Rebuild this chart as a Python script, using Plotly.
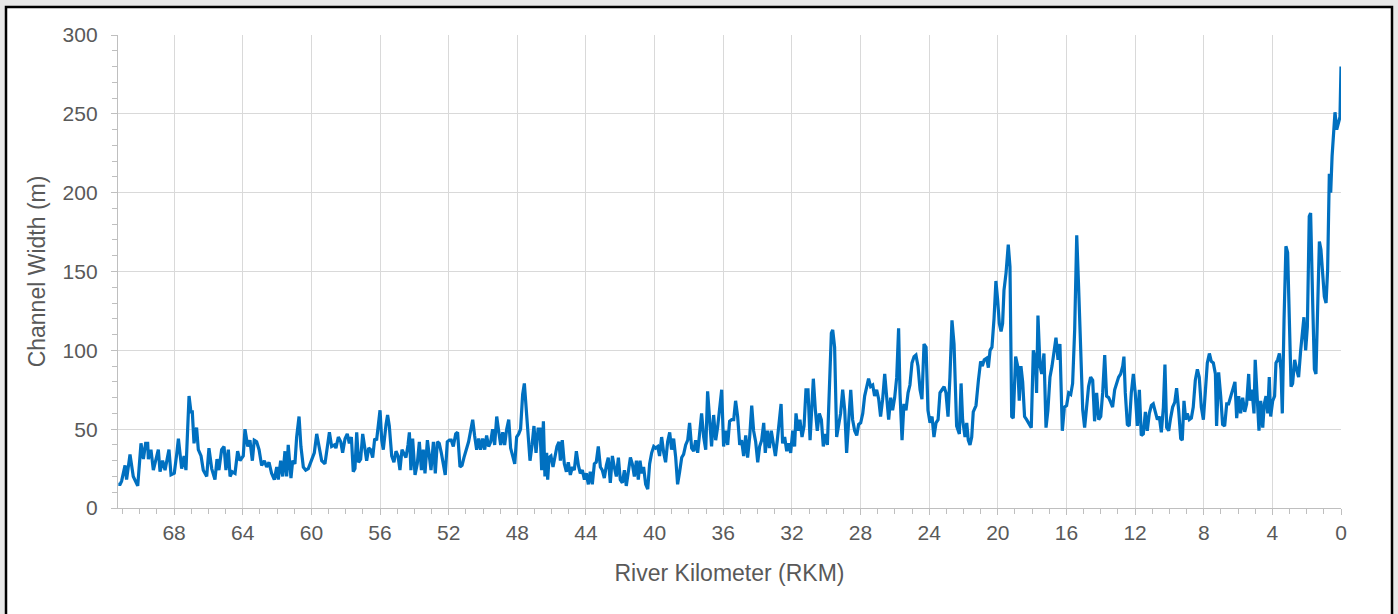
import plotly.graph_objects as go

# River kilometer (RKM) of each measurement, upstream -> downstream
rkm = [
    71.25, 71.15, 71.06, 70.86, 70.77, 70.57, 70.38, 70.18, 70.12, 69.93, 69.79, 69.66, 69.54, 69.50, 69.35,
    69.21, 69.11, 68.92, 68.82, 68.67, 68.53, 68.43, 68.30, 68.18, 67.99, 67.85, 67.75, 67.66, 67.56, 67.42,
    67.31, 67.13, 67.02, 66.94, 66.84, 66.69, 66.59, 66.43, 66.30, 66.10, 65.97, 65.81, 65.62, 65.50, 65.39,
    65.23, 65.09, 64.98, 64.84, 64.74, 64.61, 64.45, 64.30, 64.16, 63.97, 63.87, 63.71, 63.58, 63.44, 63.33,
    63.19, 63.05, 62.90, 62.74, 62.61, 62.47, 62.32, 62.16, 62.02, 61.93, 61.79, 61.67, 61.54, 61.44, 61.35,
    61.19, 61.09, 60.96, 60.86, 60.72, 60.61, 60.47, 60.33, 60.18, 59.98, 59.83, 59.69, 59.56, 59.40, 59.21,
    59.07, 58.95, 58.82, 58.66,
    58.57, 58.43, 58.29, 58.18, 58.04, 57.91, 57.79, 57.67, 57.56, 57.46, 57.36, 57.25, 57.13, 57.01, 56.90,
    56.78, 56.66, 56.55, 56.43, 56.31, 56.20, 56.08, 56.00, 55.90, 55.81, 55.65, 55.56, 55.46, 55.32, 55.19,
    55.07, 54.95, 54.84, 54.72, 54.60, 54.49, 54.37, 54.29, 54.20, 54.10, 53.96, 53.83, 53.71, 53.59, 53.48,
    53.38, 53.24, 53.13, 53.03, 52.89, 52.78, 52.66, 52.55, 52.43, 52.31, 52.20, 52.08, 51.96, 51.85, 51.73,
    51.59, 51.48, 51.34, 51.22, 51.11, 50.95, 50.84, 50.72, 50.60, 50.49, 50.37, 50.25, 50.14, 50.02, 49.90,
    49.79, 49.67, 49.55, 49.44, 49.32, 49.20, 49.09, 48.97, 48.85, 48.74, 48.62, 48.50, 48.39, 48.27, 48.15,
    48.04, 47.92, 47.81, 47.69, 47.59, 47.48, 47.36, 47.26, 47.14, 47.03, 46.91, 46.79, 46.68, 46.58, 46.48,
    46.39, 46.29,
    46.23, 46.15, 46.04, 45.92, 45.80, 45.69, 45.57, 45.49, 45.38, 45.26, 45.14, 45.03, 44.91, 44.79, 44.68,
    44.56, 44.44, 44.33, 44.21, 44.09, 43.98, 43.86, 43.75, 43.63, 43.51, 43.40, 43.28, 43.16, 43.05, 42.93,
    42.81, 42.70, 42.58, 42.46, 42.35, 42.23, 42.11, 42.00, 41.88, 41.76, 41.65, 41.53, 41.41, 41.30, 41.18,
    41.06, 40.95, 40.85, 40.75, 40.64, 40.52, 40.40, 40.29, 40.17, 40.05, 39.94, 39.82, 39.71, 39.59, 39.47,
    39.36, 39.24, 39.12, 39.01, 38.89, 38.77, 38.66, 38.54, 38.42, 38.31, 38.19, 38.07, 37.96, 37.84, 37.72,
    37.61, 37.49, 37.37, 37.26, 37.14, 37.02, 36.91, 36.79, 36.68, 36.56, 36.44, 36.33, 36.21, 36.09, 35.98,
    35.86, 35.74, 35.63, 35.51, 35.39, 35.28, 35.16, 35.04, 34.93, 34.81, 34.69, 34.58, 34.46, 34.34, 34.23,
    34.11, 33.99, 33.88, 33.76, 33.64,
    33.55, 33.43, 33.31, 33.20, 33.08, 32.96, 32.85, 32.73, 32.63, 32.54, 32.42, 32.30, 32.19, 32.07, 31.95,
    31.84, 31.76, 31.64, 31.53, 31.41, 31.29, 31.18, 31.06, 30.94, 30.83, 30.75, 30.63, 30.52, 30.40, 30.28,
    30.17, 30.05, 29.93, 29.82, 29.70, 29.62, 29.51, 29.39, 29.27, 29.16, 29.04, 28.92, 28.81, 28.69, 28.57,
    28.46, 28.34, 28.22, 28.11, 27.99, 27.87, 27.76, 27.64, 27.53, 27.41, 27.29, 27.18, 27.06, 26.94, 26.83,
    26.71, 26.59, 26.48, 26.36, 26.24, 26.13, 26.01, 25.89, 25.78, 25.70, 25.58, 25.47, 25.35, 25.23, 25.12,
    25.00, 24.88, 24.77, 24.65, 24.53, 24.42, 24.30, 24.18, 24.07, 23.95, 23.83, 23.72, 23.60, 23.48, 23.37,
    23.25, 23.13, 23.02, 22.90, 22.79, 22.67, 22.55,
    22.40, 22.24, 22.14, 22.05, 21.91, 21.81, 21.72, 21.62, 21.52, 21.43, 21.27, 21.13, 21.00, 20.90, 20.79,
    20.65, 20.55, 20.45, 20.34, 20.22, 20.11, 20.01, 19.91, 19.81, 19.72, 19.64, 19.52, 19.39, 19.29, 19.19,
    19.10, 18.96, 18.84, 18.75, 18.65, 18.55, 18.44, 18.32, 18.18, 18.05, 17.93, 17.81, 17.74, 17.66, 17.54,
    17.44, 17.31, 17.19, 17.08, 16.96, 16.84, 16.73, 16.61, 16.49, 16.38, 16.24, 16.12, 15.99, 15.87, 15.75,
    15.64, 15.52, 15.40, 15.29, 15.17, 15.05, 14.94, 14.82, 14.71, 14.59, 14.47, 14.36, 14.24, 14.12, 14.00,
    13.89, 13.77, 13.66, 13.54, 13.42, 13.31, 13.19, 13.07, 12.96, 12.84, 12.72, 12.65, 12.57, 12.45, 12.34,
    12.22, 12.10, 11.99, 11.87, 11.75, 11.64, 11.52, 11.40, 11.29, 11.17, 11.05, 10.94, 10.82, 10.70, 10.59,
    10.47, 10.35, 10.26, 10.16, 10.04, 9.93, 9.81, 9.69, 9.58, 9.46, 9.34, 9.25, 9.15, 9.05, 8.96,
    8.84, 8.72, 8.61, 8.49, 8.37, 8.26, 8.14, 8.02, 7.91, 7.79, 7.67, 7.56, 7.44, 7.32, 7.25,
    7.13, 7.01, 6.90, 6.78, 6.66, 6.55, 6.43, 6.31, 6.18, 6.08, 5.96, 5.85, 5.73, 5.61, 5.50,
    5.38,
    5.30, 5.19, 5.07, 5.00, 4.88, 4.78, 4.68, 4.56, 4.47, 4.37, 4.27, 4.18, 4.10, 3.98, 3.87,
    3.79, 3.69, 3.59, 3.50, 3.42, 3.32, 3.21, 3.11, 3.01, 2.91, 2.82, 2.70, 2.59, 2.47, 2.35,
    2.25, 2.16, 2.06, 1.96, 1.85, 1.77, 1.65, 1.55, 1.46, 1.36, 1.26, 1.17, 1.07, 0.97, 0.87,
    0.78, 0.68, 0.60, 0.52, 0.45, 0.35, 0.25, 0.16, 0.06, 0.00,
]

# Channel width (m) at each RKM
width_m = [
    15, 15, 17, 27, 18, 34, 20, 16, 14, 41, 31, 41, 41, 31, 37,
    24, 28, 37, 23, 30, 24, 30, 37, 21, 22, 34, 44, 35, 25, 33,
    24, 71, 61, 61, 41, 51, 37, 33, 24, 20, 38, 25, 18, 31, 24,
    37, 39, 24, 37, 20, 23, 22, 36, 30, 33, 50, 39, 43, 30, 43,
    42, 37, 27, 30, 26, 29, 22, 18, 26, 18, 30, 20, 36, 20, 40,
    19, 30, 28, 45, 58, 39, 26, 24, 25, 30, 35, 47, 39, 30, 28,
    39, 48, 39, 40,
    38, 45, 42, 35, 44, 47, 41, 45, 23, 25, 48, 29, 31, 47, 39,
    30, 38, 37, 32, 44, 43, 56, 62, 43, 37, 53, 59, 52, 33, 29,
    36, 33, 24, 37, 34, 32, 40, 48, 24, 44, 21, 28, 42, 24, 37,
    22, 43, 32, 24, 42, 22, 42, 41, 35, 26, 21, 42, 43, 43, 39,
    47, 48, 26, 27, 32, 37, 42, 49, 56, 46, 37, 44, 37, 44, 37,
    46, 39, 42, 50, 40, 58, 49, 40, 48, 40, 50, 56, 38, 32, 28,
    45, 47, 50, 72, 79, 62, 45, 30, 40, 52, 35, 50, 50, 24, 55,
    20, 35,
    18, 32, 33, 26, 32, 39, 42, 30, 43, 28, 23, 29, 21, 26, 24,
    36, 27, 22, 24, 18, 22, 15, 23, 15, 28, 29, 39, 26, 24, 19,
    27, 32, 16, 33, 26, 20, 32, 18, 16, 24, 14, 25, 32, 28, 20,
    30, 18, 30, 22, 26, 15, 12, 28, 35, 39, 38, 39, 33, 45, 35,
    29, 42, 48, 37, 44, 32, 15, 23, 32, 34, 40, 43, 54, 38, 36,
    43, 35, 48, 60, 45, 37, 74, 58, 39, 59, 43, 51, 63, 75, 39,
    49, 40, 55, 56, 56, 68, 58, 40, 43, 33, 46, 32, 45, 65, 49,
    42, 29, 39, 43, 54,
    35, 49, 38, 49, 41, 33, 43, 54, 66, 41, 45, 36, 41, 35, 49,
    39, 60, 49, 56, 45, 52, 75, 75, 43, 62, 82, 62, 49, 60, 56,
    39, 47, 40, 77, 111, 113, 102, 45, 54, 60, 75, 62, 35, 57, 75,
    56, 49, 46, 53, 54, 60, 71, 78, 82, 77, 78, 71, 75, 69, 58,
    69, 85, 71, 56, 70, 62, 70, 83, 114, 73, 43, 66, 62, 73, 78,
    92, 96, 97, 90, 75, 69, 104, 102, 62, 54, 58, 45, 54, 56, 73,
    75, 77, 73, 58, 83, 119, 104,
    52, 47, 79, 56, 45, 54, 43, 40, 45, 61, 65, 81, 93, 90, 94,
    95, 89, 100, 102, 120, 144, 132, 117, 112, 117, 138, 149, 167, 153, 58,
    57, 96, 90, 68, 90, 80, 58, 56, 53, 51, 100, 94, 73, 122, 90,
    85, 98, 51, 62, 83, 90, 98, 108, 94, 104, 49, 64, 65, 73, 72,
    79, 113, 173, 140, 92, 62, 51, 64, 77, 83, 81, 55, 73, 56, 58,
    73, 97, 71, 70, 67, 64, 75, 79, 83, 85, 90, 96, 73, 53, 52,
    73, 85, 73, 52, 75, 46, 47, 61, 49, 60, 65, 66, 61, 56, 58,
    48, 64, 91, 51, 49, 57, 64, 67, 76, 62, 44, 43, 68, 56, 60,
    56, 57, 64, 81, 88, 83, 64, 56, 73, 92, 98, 93, 92, 85, 52,
    86, 71, 53, 52, 66, 66, 71, 75, 80, 57, 71, 60, 70, 61, 66,
    85,
    68, 75, 60, 94, 71, 49, 68, 51, 66, 71, 60, 83, 58, 68, 71,
    92, 94, 98, 88, 60, 119, 166, 162, 119, 77, 79, 94, 88, 83, 100,
    109, 121, 100, 115, 185, 187, 130, 88, 85, 132, 169, 164, 149, 134, 130,
    151, 212, 200, 223, 238, 251, 240, 244, 248, 280,
]

x_ticks = [68, 64, 60, 56, 52, 48, 44, 40, 36, 32, 28, 24, 20, 16, 12, 8, 4, 0]
y_ticks = [0, 50, 100, 150, 200, 250, 300]

x_title = "River Kilometer (RKM)"
y_title = "Channel Width (m)"

FONT = "Liberation Sans, Arial, sans-serif"
TXT = "#595959"
GRID = "#d9d9d9"
AXL = "#bfbfbf"

fig = go.Figure()
fig.add_trace(go.Scatter(
    x=rkm, y=width_m, mode="lines",
    line=dict(color="#0070C0", width=3.2),
    showlegend=False, hoverinfo="x+y",
))

L, R, T, B = 118, 57, 35, 106
W, H = 1398, 614
pw, ph = W - L - R, H - T - B

fig.update_layout(
    width=W, height=H,
    margin=dict(l=L, r=R, t=T, b=B, pad=0),
    paper_bgcolor="#e8e8e8",
    plot_bgcolor="white",
    font=dict(family=FONT, color=TXT, size=21),
    shapes=[dict(
        type="rect", xref="paper", yref="paper", layer="below",
        x0=(6 - L) / pw, x1=(1392 - L) / pw,
        y0=(H - B - 640) / ph, y1=(H - B - 7) / ph,
        fillcolor="white", line=dict(color="black", width=2.5),
    )],
)

fig.update_xaxes(
    range=[71.27, 0],
    tickmode="array", tickvals=x_ticks, ticktext=[str(v) for v in x_ticks],
    showgrid=True, gridcolor=GRID, gridwidth=1.3,
    showline=True, linecolor=AXL, linewidth=1.3,
    ticks="outside", ticklen=6, tickcolor=AXL, tickwidth=1.3,
    minor=dict(dtick=1, tick0=0, ticks="outside", ticklen=5, tickcolor=AXL, tickwidth=1.3, showgrid=False),
    tickfont=dict(size=21, color=TXT, family=FONT),
    ticklabelstandoff=0,
    title=dict(text=x_title, font=dict(size=23, color=TXT, family=FONT), standoff=21),
    zeroline=False,
)
fig.update_yaxes(
    range=[0, 300],
    tickmode="array", tickvals=y_ticks, ticktext=[str(v) for v in y_ticks],
    showgrid=True, gridcolor=GRID, gridwidth=1.3,
    showline=True, linecolor=AXL, linewidth=1.3,
    ticks="outside", ticklen=6, tickcolor=AXL, tickwidth=1.3,
    minor=dict(dtick=10, tick0=0, ticks="outside", ticklen=5, tickcolor=AXL, tickwidth=1.3, showgrid=False),
    tickfont=dict(size=21, color=TXT, family=FONT),
    ticklabelstandoff=9,
    title=dict(text=y_title, font=dict(size=23, color=TXT, family=FONT), standoff=10),
    zeroline=False,
)

fig.write_html(
    "out.html",
    config={"displayModeBar": False},
    post_script="document.body.style.margin='0';document.body.style.background='#e8e8e8';",
)
